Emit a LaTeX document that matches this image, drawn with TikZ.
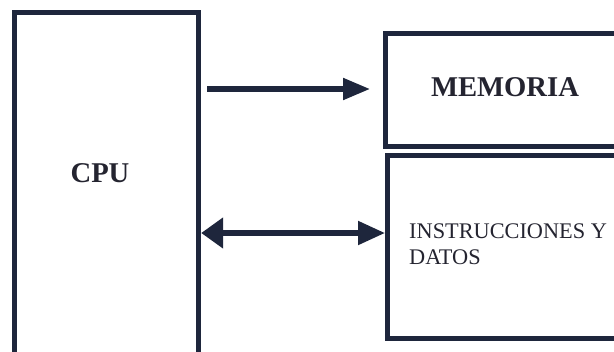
\documentclass[tikz,border=0pt]{standalone}
\usepackage{fontspec}
\setmainfont{Liberation Serif}
\usepackage{xcolor}
\usepackage{tikz}
\usetikzlibrary{arrows.meta}
\definecolor{navy}{RGB}{30,38,60}
\definecolor{ink}{RGB}{36,36,48}

\begin{document}
\begin{tikzpicture}[x=0.02cm, y=-0.02cm,
    box/.style={draw=navy, line width=3pt, rectangle, anchor=north west, inner sep=0pt},
    bigtxt/.style={text=ink, font=\fontsize{16.3}{19}\selectfont\bfseries},
    smalltxt/.style={text=ink, font=\fontsize{12.7}{14.5}\selectfont, align=left, anchor=west},
    arr/.style={draw=navy, line width=2.9pt}]
    \useasboundingbox (0,0) rectangle (614,351);
    \node[box, minimum width=3.68cm, minimum height=7.4cm] (cpu) at (12,10) {};
    \node[box, minimum width=5cm, minimum height=2.26cm] (mem) at (383,31) {};
    \node[box, minimum width=5cm, minimum height=3.66cm] (ins) at (385,153) {};
    \node[bigtxt] (cputxt) at (100,173) {CPU};
    \node[bigtxt] (memtxt) at (505,87) {MEMORIA};
    \node[smalltxt] (instxt) at (403,244) {INSTRUCCIONES Y\\DATOS};
    \coordinate (a) at (0,89);
    \coordinate (b) at (0,233);
    \draw[arr, -{Triangle[length=0.54cm,width=0.42cm]}, shorten <=0.12cm, shorten >=0.26cm] (cpu.east |- a) -- (mem.west |- a);
    \draw[arr, {Triangle[length=0.44cm,width=0.6cm]}-{Triangle[length=0.54cm,width=0.46cm]}] (cpu.east |- b) -- (ins.west |- b);
\end{tikzpicture}
\end{document}
